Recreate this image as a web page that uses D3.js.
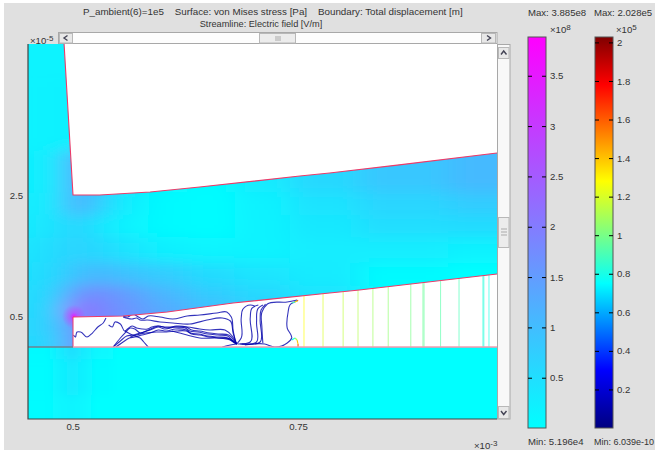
<!DOCTYPE html>
<html>
<head>
<meta charset="utf-8">
<script src="https://cdn.jsdelivr.net/npm/d3@7"></script>
<style>
body { margin: 0; background: #fff; }
svg { display: block; }
text { font-family: "Liberation Sans", sans-serif; font-size: 9.6px; fill: #333; white-space: pre; }
</style>
</head>
<body>
<svg width="655" height="453"></svg>
<script>
// x in 1e-3 m, y in 1e-5 m, stress in 1e8 Pa, electric field in 1e5 V/m
var xTicks = [0.5, 0.75];
var yTicks = [0.5, 2.5];
var stressTicks = [0.5, 1, 1.5, 2, 2.5, 3, 3.5];
var fieldTicks = [0.2, 0.4, 0.6, 0.8, 1, 1.2, 1.4, 1.6, 1.8, 2];

var upperGap = [[0.4906, 5.01], [0.5005, 2.513], [0.530, 2.513], [0.586, 2.562], [0.641, 2.645], [0.752, 2.827], [0.785, 2.876], [0.860, 3.008], [0.9706, 3.207], [0.9706, 5.01]];
var lowerGapTop = [[0.5005, 0.496], [0.556, 0.512], [0.605, 0.579], [0.678, 0.727], [0.785, 0.893], [0.818, 0.942], [0.9706, 1.207]];
var gapFloor = 0;

var fieldX = [0.4506, 0.4695, 0.4861, 0.5005, 0.5172, 0.536, 0.564, 0.6025, 0.6525, 0.708, 0.774, 0.863, 0.9706];
var fieldY = [5.01, 3.75, 2.76, 2.35, 2.02, 1.60, 1.19, 0.86, 0.61, 0.36, 0];
var stressRows = [
  [0.19, 0.19, 0.19, 0.19, 0.19, 0.19, 0.19, 0.19, 0.19, 0.3, 0.6, 0.85, 1.05],
  [0.19, 0.19, 0.21, 0.23, 0.23, 0.23, 0.23, 0.23, 0.25, 0.3, 0.6, 0.85, 1.05],
  [0.23, 0.27, 0.35, 1.4, 1.2, 0.8, 0.35, 0.12, 0.06, 0.3, 0.6, 0.85, 1.05],
  [0.27, 0.31, 0.39, 1.36, 0.97, 0.58, 0.23, 0.08, 0.03, 0.2, 0.42, 0.62, 0.78],
  [0.31, 0.39, 0.43, 0.7, 0.54, 0.31, 0.16, 0.08, 0.03, 0.18, 0.35, 0.5, 0.55],
  [0.39, 0.47, 0.62, 0.62, 0.66, 0.54, 0.39, 0.23, 0.16, 0.18, 0.28, 0.28, 0.2],
  [0.47, 0.54, 0.66, 0.9, 1.05, 1.05, 0.9, 0.74, 0.54, 0.39, 0.3, 0.08, 0.0],
  [0.5, 0.62, 0.78, 1.6, 1.75, 1.7, 1.45, 1.1, 0.78, 0.58, 0.39, 0.04, 0.0],
  [0.54, 0.66, 0.85, 2.6, 2.0, 1.85, 1.6, 1.3, 1.0, 0.7, 0.39, 0.04, 0.0],
  [0.58, 0.7, 0.85, 1.8, 1.8, 1.7, 1.6, 1.3, 1.0, 0.7, 0.39, 0.04, 0.0],
  [0.54, 0.66, 0.7, 1.8, 1.8, 1.7, 1.6, 1.3, 1.0, 0.7, 0.39, 0.04, 0.0]
];
var plateX = [0.4506, 0.4695, 0.487, 0.4995, 0.512, 0.53, 0.56, 0.9706];
var plateY = [0, -0.4, -1.19];
var plateRows = [
  [0.08, 0.08, 0.3, 0.5, 0.3, 0.1, 0.0, 0.0],
  [0.04, 0.04, 0.2, 0.32, 0.2, 0.04, 0.0, 0.0],
  [0.04, 0.04, 0.12, 0.16, 0.1, 0.0, 0.0, 0.0]
];
var hotSpot = { x: 0.5015, y: 0.5, stress: 3.5 };

// vertical field lines in the right part of the gap
var fieldLineX = [0.7566, 0.7777, 0.800, 0.8165, 0.833, 0.850, 0.875, 0.8885, 0.8897, 0.908, 0.9285, 0.955, 0.956, 0.9617];
var fieldLineE = [1.28, 1.2, 1.15, 1.12, 1.08, 1.05, 1.0, 0.97, 0.96, 0.93, 0.9, 0.83, 0.82, 0.8];

var streamE = 0.1;
var streamlines = [
  [[0.501, 0.198], [0.503, 0.165], [0.505, 0.248], [0.509, 0.248], [0.516, 0.165], [0.522, 0.231], [0.528, 0.331], [0.534, 0.397], [0.537, 0.479]],
  [[0.540, 0.364], [0.544, 0.331], [0.547, 0.413], [0.553, 0.380], [0.558, 0.264], [0.561, 0.298], [0.566, 0.347], [0.571, 0.314], [0.577, 0.298], [0.583, 0.298], [0.588, 0.331], [0.594, 0.347], [0.602, 0.331], [0.614, 0.331], [0.627, 0.331], [0.641, 0.298], [0.652, 0.281], [0.669, 0.281], [0.677, 0.182], [0.682, 0.050]],
  [[0.556, 0.512], [0.561, 0.496], [0.567, 0.545], [0.573, 0.496], [0.578, 0.463], [0.584, 0.512], [0.597, 0.496], [0.611, 0.463], [0.627, 0.512], [0.641, 0.529], [0.660, 0.562], [0.671, 0.579], [0.676, 0.496], [0.678, 0.281], [0.681, 0.066]],
  [[0.556, 0.496], [0.566, 0.463], [0.571, 0.479], [0.575, 0.446], [0.583, 0.446], [0.597, 0.413], [0.611, 0.397], [0.630, 0.380], [0.649, 0.446], [0.666, 0.479], [0.675, 0.430], [0.678, 0.231], [0.682, 0.050]],
  [[0.545, 0], [0.553, 0.099], [0.560, 0.182], [0.567, 0.198], [0.575, 0.231], [0.586, 0.281], [0.595, 0.331], [0.602, 0.298], [0.614, 0.331], [0.625, 0.314], [0.630, 0.264], [0.639, 0.248], [0.650, 0.215], [0.661, 0.198], [0.672, 0.182], [0.678, 0.099], [0.682, 0.050]],
  [[0.548, 0], [0.556, 0.083], [0.563, 0.149], [0.569, 0.165], [0.577, 0.198], [0.586, 0.231], [0.595, 0.281], [0.604, 0.264], [0.614, 0.298], [0.626, 0.281], [0.631, 0.231], [0.640, 0.215], [0.650, 0.182], [0.661, 0.165], [0.672, 0.149], [0.678, 0.083], [0.682, 0.050]],
  [[0.545, 0], [0.553, 0.149], [0.558, 0.231], [0.564, 0.314], [0.569, 0.298], [0.575, 0.231], [0.584, 0.281], [0.595, 0.347], [0.605, 0.314], [0.615, 0.347], [0.626, 0.331], [0.632, 0.281], [0.641, 0.264], [0.652, 0.231], [0.663, 0.215], [0.673, 0.198], [0.679, 0.116], [0.682, 0.050]],
  [[0.564, 0.165], [0.571, 0.198], [0.581, 0.231], [0.593, 0.248], [0.604, 0.248], [0.615, 0.264], [0.626, 0.264], [0.632, 0.215], [0.641, 0.198], [0.652, 0.165], [0.663, 0.149], [0.675, 0.132], [0.682, 0.050]],
  [[0.558, 0.264], [0.564, 0.215], [0.569, 0.182], [0.575, 0.149], [0.579, 0.083], [0.584, 0]],
  [[0.610, 0.264], [0.627, 0.198], [0.641, 0.149], [0.660, 0.149], [0.675, 0.116], [0.682, 0.050]],
  [[0.666, 0], [0.675, 0.033], [0.682, 0.050]],
  [[0.682, 0.050], [0.687, 0.149], [0.687, 0.479], [0.689, 0.628], [0.697, 0.694], [0.702, 0.678]],
  [[0.683, 0.050], [0.697, 0.083], [0.697, 0.479], [0.699, 0.645], [0.706, 0.694]],
  [[0.686, 0.050], [0.704, 0.083], [0.704, 0.413], [0.706, 0.645], [0.711, 0.694]],
  [[0.688, 0.050], [0.708, 0.083], [0.708, 0.446], [0.709, 0.612], [0.714, 0.711]],
  [[0.711, 0.066], [0.710, 0.314], [0.710, 0.579], [0.716, 0.711], [0.738, 0.744], [0.749, 0.777]],
  [[0.691, 0.033], [0.713, 0.050], [0.724, 0], [0.738, 0.066], [0.743, 0.149], [0.738, 0.314], [0.739, 0.579], [0.741, 0.694], [0.749, 0.760]]
];
// short hot ends of the two outer streamlines, each point is x, y, E
var hotEnds = [
  [[0.743, 0.727, 0.5], [0.7466, 0.744, 0.9], [0.749, 0.760, 1.3], [0.750, 0.777, 1.6]],
  [[0.743, 0.116, 0.5], [0.7466, 0.149, 0.8], [0.749, 0.116, 1.1], [0.750, 0.050, 1.4], [0.750, 0, 1.6]]
];

var jetDomain = [0, 0.3, 0.75, 1.28, 1.78, 2.03];
var jetColors = ["#000080", "#0000ff", "#00ffff", "#ffff00", "#ff0000", "#800000"];
var stressDomain = [0, 3.885];
var stressColors = ["#00ffff", "#ff00ff"];

var plot = { left: 28, right: 497, top: 44, bottom: 419 };

var xScale = d3.scaleLinear().domain([0.4506, 0.9706]).range([plot.left, plot.right]);
var yScale = d3.scaleLinear().domain([-1.19, 5.01]).range([plot.bottom, plot.top]);
var stressColor = d3.scaleLinear().domain(stressDomain).range(stressColors);
var jet = d3.scaleLinear().domain(jetDomain).range(jetColors);
var stressBar = d3.scaleLinear().domain([0.0005, 3.885]).range([428, 37]);
var fieldBar = d3.scaleLinear().domain([0, 2.028]).range([428, 37]);

var svg = d3.select("svg");
var defs = svg.append("defs");

svg.append("rect").attr("x", 4).attr("y", 3).attr("width", 651).attr("height", 447).attr("fill", "#e0e0e0");

defs.append("clipPath").attr("id", "upperClip").append("rect")
  .attr("x", xScale(0.4506)).attr("y", yScale(5.01))
  .attr("width", xScale(0.9706) - xScale(0.4506)).attr("height", yScale(0) - yScale(5.01));
defs.append("clipPath").attr("id", "plateClip").append("rect")
  .attr("x", xScale(0.4506)).attr("y", yScale(0))
  .attr("width", xScale(0.9706) - xScale(0.4506)).attr("height", yScale(-1.19) - yScale(0));

defs.append("filter").attr("id", "soft").attr("x", "-20%").attr("y", "-20%").attr("width", "140%").attr("height", "140%")
  .append("feGaussianBlur").attr("stdDeviation", "14 7");
defs.append("filter").attr("id", "softPlate").attr("x", "-20%").attr("y", "-20%").attr("width", "140%").attr("height", "140%")
  .append("feGaussianBlur").attr("stdDeviation", 5);

var hot = defs.append("radialGradient").attr("id", "hotGrad");
hot.append("stop").attr("offset", "0%").attr("stop-color", stressColor(hotSpot.stress)).attr("stop-opacity", 1);
hot.append("stop").attr("offset", "35%").attr("stop-color", stressColor(hotSpot.stress)).attr("stop-opacity", 0.4);
hot.append("stop").attr("offset", "100%").attr("stop-color", stressColor(hotSpot.stress)).attr("stop-opacity", 0);

// draws value cells between the midpoints of the sample positions
var drawCells = function(group, xs, ys, rows)
{
  var edge = function(list, i, s)
  {
    if (i < 0) { return s(list[0]) - 30 * Math.sign(s(list[1]) - s(list[0])); }
    if (i >= list.length - 1) { return s(list[list.length - 1]) + 30 * Math.sign(s(list[1]) - s(list[0])); }
    return (s(list[i]) + s(list[i + 1])) / 2;
  };
  rows.forEach(function(row, r)
  {
    var y0 = edge(ys, r - 1, yScale);
    var y1 = edge(ys, r, yScale);
    group.selectAll(null).data(row).enter().append("rect")
      .attr("x", function(d, c) { return edge(xs, c - 1, xScale); })
      .attr("y", Math.min(y0, y1))
      .attr("width", function(d, c) { return edge(xs, c, xScale) - edge(xs, c - 1, xScale) + 0.5; })
      .attr("height", Math.abs(y1 - y0) + 0.5)
      .attr("fill", function(d) { return stressColor(d); });
  });
};

var upper = svg.append("g").attr("clip-path", "url(#upperClip)");
upper.append("rect").attr("x", plot.left).attr("y", plot.top).attr("width", plot.right - plot.left).attr("height", 310).attr("fill", stressColor(0.2));
drawCells(upper.append("g").attr("filter", "url(#soft)"), fieldX, fieldY, stressRows);
upper.append("circle")
  .attr("cx", xScale(hotSpot.x)).attr("cy", yScale(hotSpot.y)).attr("r", 12)
  .attr("fill", "url(#hotGrad)");

var plate = svg.append("g").attr("clip-path", "url(#plateClip)");
plate.append("rect").attr("x", plot.left).attr("y", yScale(0)).attr("width", plot.right - plot.left).attr("height", 75).attr("fill", "#00ffff");
drawCells(plate.append("g").attr("filter", "url(#softPlate)"), plateX, plateY, plateRows);

// the white gaps over the stress field
var line = d3.line().x(function(d) { return xScale(d[0]); }).y(function(d) { return yScale(d[1]); });
var curve = d3.line().x(function(d) { return xScale(d[0]); }).y(function(d) { return yScale(d[1]); }).curve(d3.curveCatmullRom.alpha(0.9));

svg.append("path").attr("d", line(upperGap) + "Z").attr("fill", "#fff");
var lowerGap = lowerGapTop.concat([[0.9706, gapFloor], [0.5005, gapFloor]]);
svg.append("path").attr("d", line(lowerGap) + "Z").attr("fill", "#fff");

defs.append("clipPath").attr("id", "gapClip").append("path").attr("d", line(lowerGap) + "Z");
var gapGroup = svg.append("g").attr("clip-path", "url(#gapClip)");

gapGroup.selectAll(".fieldLine").data(fieldLineX).enter().append("line")
  .attr("class", "fieldLine")
  .attr("x1", function(d) { return xScale(d); })
  .attr("x2", function(d) { return xScale(d); })
  .attr("y1", yScale(gapFloor))
  .attr("y2", yScale(1.3))
  .attr("stroke", function(d, i) { return jet(fieldLineE[i]); })
  .attr("stroke-width", 1.1)
  .attr("opacity", 0.6);

gapGroup.selectAll(".stream").data(streamlines).enter().append("path")
  .attr("class", "stream")
  .attr("d", curve)
  .attr("fill", "none")
  .attr("stroke", jet(streamE))
  .attr("stroke-width", 1.1)
  .attr("opacity", 0.8);

hotEnds.forEach(function(end)
{
  d3.pairs(end).forEach(function(p)
  {
    gapGroup.append("path").attr("d", line(p)).attr("fill", "none")
      .attr("stroke", jet(p[1][2])).attr("stroke-width", 1.1);
  });
});

// boundaries
svg.append("path").attr("d", line(upperGap.slice(0, 9))).attr("fill", "none").attr("stroke", "#ee3a68").attr("stroke-width", 1.1);
svg.append("path").attr("d", line(lowerGapTop)).attr("fill", "none").attr("stroke", "#ee3a68").attr("stroke-width", 1.1);
svg.append("line").attr("x1", xScale(0.5005)).attr("x2", xScale(0.5005)).attr("y1", yScale(0)).attr("y2", yScale(0.496)).attr("stroke", "#ee3a68").attr("stroke-width", 1);
svg.append("line").attr("x1", xScale(0.5005)).attr("x2", xScale(0.9706)).attr("y1", yScale(0)).attr("y2", yScale(0)).attr("stroke", "#f79aae").attr("stroke-width", 1.6);
svg.append("line").attr("x1", xScale(0.4506)).attr("x2", xScale(0.5005)).attr("y1", yScale(0)).attr("y2", yScale(0)).attr("stroke", "#708090").attr("stroke-width", 1.6);

// frame
svg.append("path")
  .attr("d", "M" + plot.left + "," + plot.top + "V" + plot.bottom + "H" + plot.right)
  .attr("fill", "none").attr("stroke", "#444").attr("stroke-width", 1.2);

// plot axes, labels only
var xAxis = d3.axisBottom(xScale).tickValues(xTicks).tickSize(0).tickPadding(4).tickFormat(d3.format("~g"));
var yAxis = d3.axisLeft(yScale).tickValues(yTicks).tickSize(0).tickPadding(5).tickFormat(d3.format("~g"));
var gx = svg.append("g").attr("transform", "translate(0," + plot.bottom + ")").call(xAxis);
var gy = svg.append("g").attr("transform", "translate(" + plot.left + ",0)").call(yAxis);
gx.select(".domain").remove();
gy.select(".domain").remove();
gx.selectAll("text").style("font-size", "9.6px").style("font-family", "Liberation Sans");
gy.selectAll("text").style("font-size", "9.6px").style("font-family", "Liberation Sans");

// colour bars
var drawBar = function(id, left, scale, ticks, domain, colors)
{
  var grad = defs.append("linearGradient").attr("id", id).attr("x1", 0).attr("x2", 0).attr("y1", 1).attr("y2", 0);
  domain.forEach(function(d, i)
  {
    var offset = (d - scale.domain()[0]) / (scale.domain()[1] - scale.domain()[0]);
    grad.append("stop").attr("offset", Math.max(0, Math.min(1, offset))).attr("stop-color", colors[i]);
  });
  svg.append("rect").attr("x", left).attr("y", 37).attr("width", 18).attr("height", 391)
    .attr("fill", "url(#" + id + ")").attr("stroke", "#555").attr("stroke-width", 1);
  var right = d3.axisRight(scale).tickValues(ticks).tickSize(-4).tickPadding(8).tickFormat(d3.format("~g"));
  var lft = d3.axisLeft(scale).tickValues(ticks).tickSize(-4).tickFormat("");
  var gr = svg.append("g").attr("transform", "translate(" + (left + 18) + ",0)").call(right);
  var gl = svg.append("g").attr("transform", "translate(" + left + ",0)").call(lft);
  gr.select(".domain").remove();
  gl.select(".domain").remove();
  gr.selectAll("text").style("font-size", "9.6px").style("font-family", "Liberation Sans").attr("x", 4);
};
drawBar("stressGrad", 528, stressBar, stressTicks, stressDomain, stressColors);
drawBar("jetGrad", 595, fieldBar, fieldTicks, jetDomain, jetColors);

// scroll bars
var scrollBox = function(x, y, w, h, fill, stroke)
{
  return svg.append("rect").attr("x", x).attr("y", y).attr("width", w).attr("height", h)
    .attr("fill", fill).attr("stroke", stroke).attr("stroke-width", 1);
};
scrollBox(58.5, 32.5, 438.5, 11, "#fdfdfd", "#a8a8a8");
scrollBox(59.5, 33.5, 13, 9.5, "#e8e8e8", "#b8b8b8");
scrollBox(259.5, 33.5, 36, 9.5, "#ececec", "#b8b8b8");
scrollBox(481.5, 33.5, 14, 9.5, "#e8e8e8", "#b8b8b8");
scrollBox(497.5, 44.5, 12.5, 374.5, "#f8f8f8", "#a8a8a8");
scrollBox(498.5, 47.5, 10.5, 11, "#e8e8e8", "#b8b8b8");
scrollBox(498.5, 217.5, 10.5, 30, "#ececec", "#b8b8b8");
scrollBox(498.5, 406.5, 10.5, 12, "#e8e8e8", "#b8b8b8");

var arrow = function(d)
{
  svg.append("path").attr("d", d).attr("fill", "none").attr("stroke", "#445").attr("stroke-width", 1.4);
};
arrow("M67.5,35.5L64,38L67.5,40.5");
arrow("M487,35.5L490.5,38L487,40.5");
arrow("M501,54.5L503.7,51L506.5,54.5");
arrow("M501,411L503.7,414.5L506.5,411");
[276, 278, 280].forEach(function(x)
{
  svg.append("line").attr("x1", x).attr("x2", x).attr("y1", 36).attr("y2", 41).attr("stroke", "#aaa");
});
[229, 232, 235].forEach(function(y)
{
  svg.append("line").attr("x1", 501).attr("x2", 507).attr("y1", y).attr("y2", y).attr("stroke", "#aaa");
});

// texts
var label = function(x, y, str, anchor)
{
  return svg.append("text").attr("x", x).attr("y", y).attr("text-anchor", anchor || "start").text(str);
};
var power = function(x, y, base, exp)
{
  var t = svg.append("text").attr("x", x).attr("y", y);
  t.append("tspan").text(base);
  t.append("tspan").attr("dy", -3).style("font-size", "8px").text(exp);
};
label(83, 15, "P_ambient(6)=1e5    Surface: von Mises stress [Pa]    Boundary: Total displacement [m]").style("font-size", "9.8px");
label(261, 26.5, "Streamline: Electric field [V/m]", "middle").style("font-size", "9.2px");
label(528, 16, "Max: 3.885e8");
label(594, 16, "Max: 2.028e5");
label(528, 445, "Min: 5.196e4");
label(594, 445, "Min: 6.039e-10").style("font-size", "9px");
power(30, 44, "\u00d710", "-5");
power(474, 449, "\u00d710", "-3");
power(550, 33, "\u00d710", "8");
power(616, 33, "\u00d710", "5");
</script>
</body>
</html>
